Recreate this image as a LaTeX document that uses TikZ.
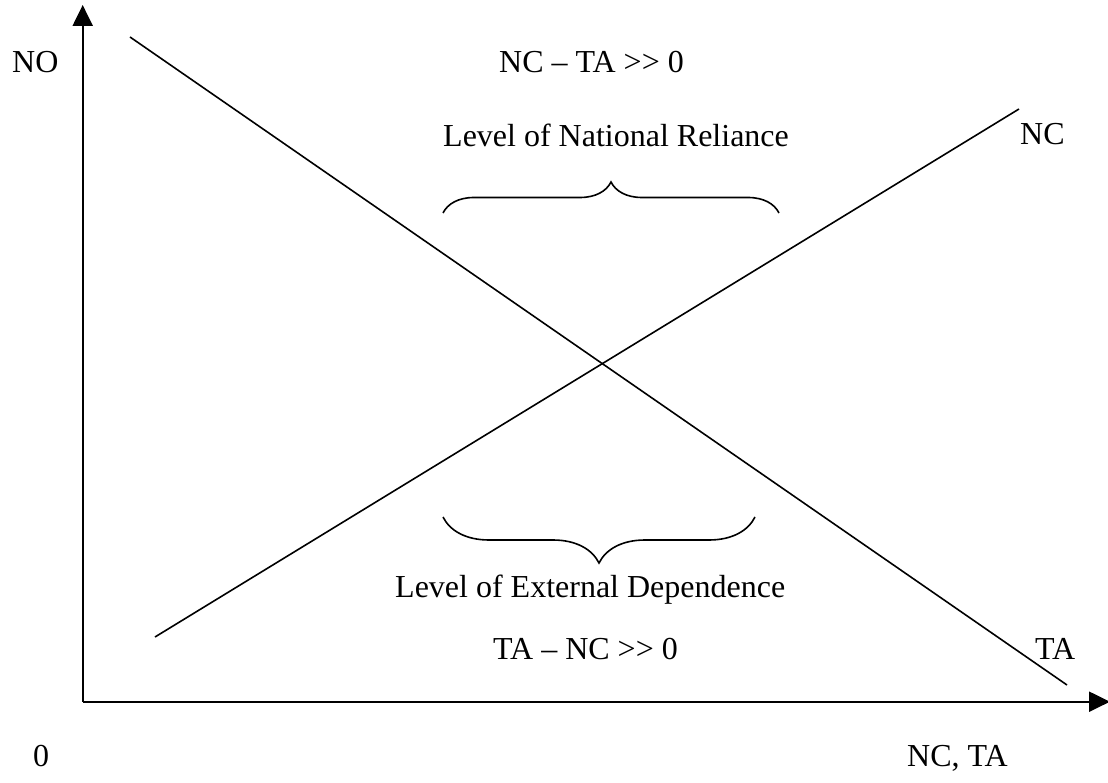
\documentclass[tikz,border=0pt]{standalone}
\usepackage{fontspec}
\setmainfont{Liberation Serif}
\usetikzlibrary{arrows.meta, decorations.pathreplacing}
\tikzset{
  AXS/.style={-{Triangle[length=21pt,width=20pt]}, line width=2.2pt},
  CRV/.style={line width=1.6pt},
  BRC/.style={decorate, decoration={brace, amplitude=#1}, line width=1.6pt},
  lbl/.style={anchor=base west, inner sep=0pt, font=\fontsize{32}{38}\selectfont},
}
\begin{document}
\begin{tikzpicture}[x=1pt, y=-1pt]
  \useasboundingbox (0,0) rectangle (1108,783);
  % axes
  \coordinate (O) at (82.7,701.7);
  \coordinate (ytop) at (82.7,5);
  \coordinate (xend) at (1110,701.7);
  \draw[AXS] (O) -- (ytop);
  \draw[AXS] (O) -- (xend);
  % the two lines
  \coordinate (ta0) at (130,37);
  \coordinate (ta1) at (1067,685);
  \coordinate (nc0) at (155,637);
  \coordinate (nc1) at (1019,109);
  \draw[CRV] (ta0) -- (ta1);
  \draw[CRV] (nc0) -- (nc1);
  % braces
  \coordinate (bt0) at (443,213);
  \coordinate (bt1) at (779,213);
  \coordinate (bb0) at (755,517);
  \coordinate (bb1) at (443,517);
  \draw[BRC=31pt] (bt0) -- (bt1);
  \draw[BRC=46pt] (bb0) -- (bb1);
  % labels
  \node[lbl] (no) at (12,73) {NO};
  \node[lbl] (gapup) at (499,73) {NC -- TA >\kern0pt> 0};
  \node[lbl] (natrel) at (443,147) {Level of National Reliance};
  \node[lbl] (nclbl) at (1020,145) {NC};
  \node[lbl] (extdep) at (395,597) {Level of External Dependence};
  \node[lbl] (gapdn) at (493,659) {TA -- NC >\kern0pt> 0};
  \node[lbl] (talbl) at (1035,659) {TA};
  \node[lbl] (zero) at (33,766) {0};
  \node[lbl] (xlbl) at (907,766) {NC, TA};
\end{tikzpicture}
\end{document}
